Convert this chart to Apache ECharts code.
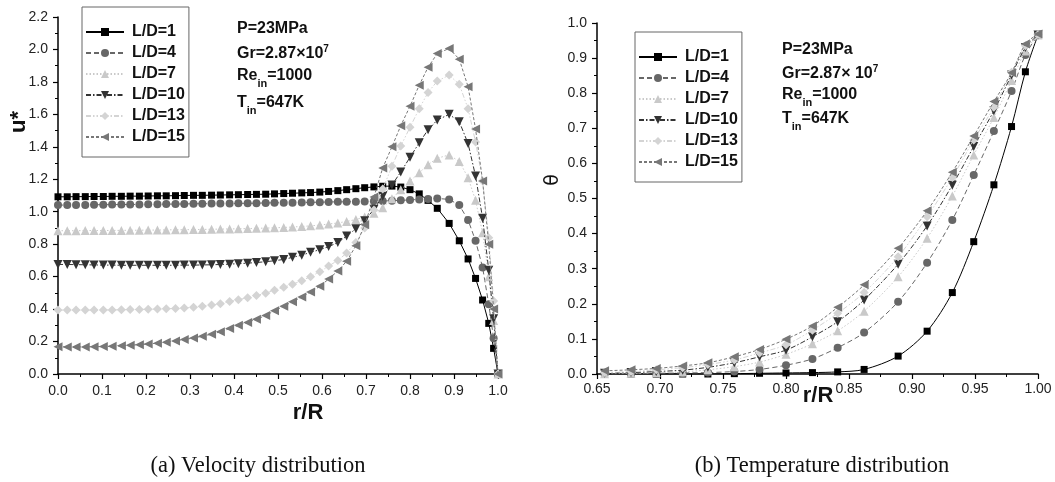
<!DOCTYPE html>
<html><head><meta charset="utf-8">
<script src="https://cdn.jsdelivr.net/npm/echarts@6/dist/echarts.min.js"></script>
<style>html,body{margin:0;padding:0;background:#fff}#c{width:1055px;height:482px}</style>
</head><body><div id="c"></div>
<script>
// ---------- data ----------
const seriesNames = ['L/D=1','L/D=4','L/D=7','L/D=10','L/D=13','L/D=15'];

const rGrid = [0,0.021,0.041,0.062,0.082,0.103,0.123,0.144,0.164,0.185,0.205,0.226,0.246,0.267,0.287,0.308,0.328,0.349,0.369,0.390,0.410,0.431,0.451,0.472,0.492,0.513,0.533,0.554,0.574,0.595,0.615,0.636,0.656,0.677,0.697,0.718,0.738,0.759,0.779,0.800,0.821,0.841,0.862,0.889,0.912,0.932,0.949,0.965,0.979,0.990,1.000];

const uLD1 = [1.092,1.092,1.093,1.093,1.094,1.094,1.095,1.095,1.096,1.096,1.097,
 1.098,1.098,1.099,1.100,1.101,1.101,1.102,1.103,1.104,1.105,
 1.106,1.107,1.108,1.110,1.112,1.114,1.116,1.118,1.121,1.125,
 1.130,1.136,1.142,1.148,1.153,1.157,1.158,1.152,1.136,1.110,1.070,1.021,
 0.928,0.821,0.709,0.589,0.456,0.312,0.158,0.000];
const uLD4 = [1.041,1.041,1.042,1.042,1.043,1.043,1.044,1.044,1.045,1.045,1.046,
 1.046,1.047,1.047,1.048,1.049,1.049,1.050,1.050,1.051,1.052,
 1.052,1.053,1.054,1.055,1.055,1.056,1.057,1.058,1.059,1.060,
 1.061,1.061,1.062,1.063,1.064,1.066,1.068,1.070,1.073,1.076,1.079,1.082,
 1.076,1.041,0.949,0.821,0.657,0.430,0.220,0.000];
const uLD7 = [0.883,0.883,0.883,0.884,0.884,0.884,0.885,0.885,0.886,0.886,0.887,
 0.887,0.888,0.889,0.889,0.890,0.891,0.892,0.893,0.894,0.895,
 0.896,0.898,0.899,0.901,0.903,0.906,0.909,0.913,0.918,0.924,
 0.931,0.940,0.952,0.968,0.990,1.025,1.080,1.135,1.190,1.240,1.290,1.330,
 1.350,1.310,1.210,1.070,0.870,0.600,0.330,0.000];
const uLD10 = [0.675,0.675,0.674,0.673,0.672,0.671,0.671,0.670,0.670,0.670,0.670,
 0.670,0.670,0.670,0.671,0.671,0.672,0.673,0.675,0.677,0.680,
 0.683,0.687,0.692,0.698,0.706,0.719,0.732,0.750,0.766,0.785,
 0.810,0.850,0.895,0.945,1.015,1.095,1.165,1.245,1.335,1.425,1.505,1.565,
 1.600,1.555,1.420,1.220,0.960,0.640,0.340,0.000];
const uLD13 = [0.394,0.394,0.394,0.394,0.394,0.395,0.395,0.396,0.397,0.398,0.399,
 0.400,0.402,0.404,0.406,0.412,0.418,0.425,0.433,0.447,0.458,
 0.470,0.483,0.498,0.516,0.535,0.553,0.575,0.600,0.630,0.665,
 0.700,0.745,0.810,0.900,1.010,1.140,1.280,1.405,1.520,1.635,1.735,1.805,
 1.842,1.785,1.635,1.430,1.190,0.840,0.450,0.000];
const uLD15 = [0.168,0.167,0.167,0.167,0.168,0.169,0.171,0.174,0.177,0.181,0.185,
 0.190,0.196,0.203,0.212,0.222,0.233,0.245,0.260,0.280,0.300,
 0.318,0.338,0.360,0.390,0.418,0.445,0.475,0.505,0.540,0.585,
 0.635,0.695,0.790,0.920,1.090,1.270,1.400,1.530,1.650,1.780,1.890,1.975,
 2.006,1.940,1.770,1.510,1.190,0.800,0.400,0.000];

const rTheta = [0.656,0.677,0.697,0.718,0.738,0.759,0.779,0.800,0.821,0.841,0.862,0.889,0.912,0.932,0.949,0.965,0.979,0.990,1.000];
const tLD1  = [0.000,0.000,0.000,0.000,0.000,0.001,0.002,0.003,0.004,0.006,0.013,0.051,0.122,0.232,0.377,0.539,0.705,0.861,0.966];
const tLD4  = [0.000,0.001,0.002,0.003,0.004,0.007,0.013,0.025,0.043,0.075,0.118,0.206,0.317,0.439,0.567,0.692,0.806,0.909,0.966];
const tLD7  = [0.001,0.002,0.004,0.006,0.012,0.021,0.034,0.056,0.086,0.123,0.179,0.277,0.387,0.507,0.624,0.731,0.836,0.920,0.966];
const tLD10 = [0.002,0.004,0.007,0.011,0.019,0.032,0.049,0.068,0.106,0.149,0.211,0.313,0.422,0.538,0.648,0.750,0.852,0.930,0.966];
const tLD13 = [0.004,0.007,0.012,0.018,0.027,0.040,0.060,0.083,0.125,0.173,0.232,0.334,0.448,0.560,0.667,0.760,0.860,0.935,0.967];
const tLD15 = [0.009,0.012,0.016,0.023,0.032,0.049,0.070,0.099,0.137,0.190,0.254,0.358,0.465,0.575,0.678,0.776,0.858,0.940,0.969];

const uSets = [uLD1,uLD4,uLD7,uLD10,uLD13,uLD15];
const tSets = [tLD1,tLD4,tLD7,tLD10,tLD13,tLD15];

const notesLeft  = [[['P=23MPa','']],[['Gr=2.87×10',''],['7','sup']],[['Re',''],['in','sub'],['=1000','']],[['T',''],['in','sub'],['=647K','']]];
const notesRight = [[['P=23MPa','']],[['Gr=2.87× 10',''],['7','sup']],[['Re',''],['in','sub'],['=1000','']],[['T',''],['in','sub'],['=647K','']]];
const captions = ['(a) Velocity distribution','(b) Temperature distribution'];

// ---------- styles ----------
const SANS = '"Liberation Sans", Arial, sans-serif';
const sty = [
 {color:'#000000', symbol:'rect',     size:7, rot:0,   dash:'solid'},
 {color:'#676767', symbol:'circle',   size:8, rot:0,   dash:[5,3]},
 {color:'#c9c9c9', symbol:'triangle', size:9, rot:0,   dash:[1.5,2]},
 {color:'#333333', symbol:'triangle', size:9, rot:180, dash:[5,2,1.5,2]},
 {color:'#d4d4d4', symbol:'diamond',  size:9, rot:0,   dash:[5,2,1.5,2,1.5,2]},
 {color:'#777777', symbol:'triangle', size:9, rot:90,  dash:[3,2]}
];

function mkSeries(i, xs, ys, axisIdx, smooth){
  const s = sty[i];
  return {
    type:'line', name:seriesNames[i], xAxisIndex:axisIdx, yAxisIndex:axisIdx,
    data: xs.map((x,j)=>[x, ys[j]]),
    symbol:s.symbol, symbolSize:s.size, symbolRotate:s.rot, showSymbol:true,
    smooth: smooth, clip:true,
    itemStyle:{color:s.color, borderWidth:0},
    lineStyle:{color:s.color, width:1, type:s.dash},
    emphasis:{disabled:true}, animation:false, z:2+i
  };
}

function xAx(idx, min, max, interval, dec, margin){
  return {type:'value', gridIndex:idx, min, max, interval,
    axisLine:{show:true, onZero:false, lineStyle:{color:'#000', width:1.5}},
    axisTick:{show:true, length:5, lineStyle:{color:'#000', width:1.2}},
    minorTick:{show:true, splitNumber:2, length:3, lineStyle:{color:'#000', width:1}},
    splitLine:{show:false},
    axisLabel:{fontFamily:SANS, fontSize:14, color:'#222', margin, formatter:v=>v.toFixed(dec), showMaxLabel:true, showMinLabel:true}
  };
}
function yAx(idx, min, max, interval){
  return {type:'value', gridIndex:idx, min, max, interval,
    axisLine:{show:true, onZero:false, lineStyle:{color:'#000', width:1.5}},
    axisTick:{show:true, length:5, lineStyle:{color:'#000', width:1.2}},
    minorTick:{show:true, splitNumber:2, length:3, lineStyle:{color:'#000', width:1}},
    splitLine:{show:false},
    axisLabel:{fontFamily:SANS, fontSize:14, color:'#222', margin:10, formatter:v=>v.toFixed(1)}
  };
}

function mkLegend(left, top){
  return {data:seriesNames, orient:'vertical', left, top,
    backgroundColor:'#fff', borderColor:'#666', borderWidth:1,
    padding:[17,4,12,3], itemGap:5, itemWidth:38, itemHeight:10,
    selectedMode:false,
    textStyle:{fontFamily:SANS, fontSize:16, fontWeight:'bold', color:'#111', padding:[0,0,0,3]}
  };
}

// text measure for sub/superscripts
const mctx = document.createElement('canvas').getContext('2d');
function tw(str, size){ mctx.font = 'bold '+size+'px "Liberation Sans"'; return mctx.measureText(str).width; }
function noteEls(lines, x0, ys){
  const els = [];
  lines.forEach((parts, li)=>{
    let x = x0; const y = ys[li];
    parts.forEach(([t,k])=>{
      const fs = k==='' ? 16 : (k==='sub' ? 11 : 10);
      const dy = k==='sub' ? 8 : (k==='sup' ? -5 : 0);
      els.push({type:'text', x:x, y:y+dy, silent:true,
        style:{text:t, fontFamily:SANS, fontSize:fs, fontWeight:'bold', fill:'#111', align:'left', verticalAlign:'middle'}});
      x += tw(t, fs);
    });
  });
  return els;
}

const graphics = [].concat(
  noteEls(notesLeft, 237, [29,54,76,103]),
  noteEls(notesRight, 782, [50,74,95,119]),
  [
    {type:'text', x:308, y:413, silent:true, style:{text:'r/R', fontFamily:SANS, fontSize:22, fontWeight:'bold', fill:'#111', align:'center', verticalAlign:'middle'}},
    {type:'text', x:818, y:396, silent:true, style:{text:'r/R', fontFamily:SANS, fontSize:22, fontWeight:'bold', fill:'#111', align:'center', verticalAlign:'middle'}},
    {type:'text', x:19, y:122, rotation:Math.PI/2, silent:true, style:{text:'u*', fontFamily:SANS, fontSize:22, fontWeight:'bold', fill:'#111', align:'center', verticalAlign:'middle'}},
    {type:'text', x:553, y:180, rotation:Math.PI/2, silent:true, style:{text:'θ', fontFamily:'"DejaVu Sans", sans-serif', fontSize:19, fill:'#111', align:'center', verticalAlign:'middle'}},
    {type:'text', x:258, y:466, silent:true, style:{text:captions[0], fontFamily:'"Liberation Serif", "Times New Roman", serif', fontSize:22.5, fill:'#111', align:'center', verticalAlign:'middle'}},
    {type:'text', x:822, y:466, silent:true, style:{text:captions[1], fontFamily:'"Liberation Serif", "Times New Roman", serif', fontSize:22.5, fill:'#111', align:'center', verticalAlign:'middle'}}
  ]
);

const series = [];
for (let i=0;i<6;i++) series.push(mkSeries(i, rGrid, uSets[i], 0, false));
for (let i=0;i<6;i++) series.push(mkSeries(i, rTheta, tSets[i], 1, 0.3));

const chart = echarts.init(document.getElementById('c'), null, {renderer:'canvas'});
chart.setOption({
  animation:false,
  backgroundColor:'#ffffff',
  grid:[
    {left:58, right:557, top:17, bottom:108, containLabel:false},
    {left:597, right:17, top:23, bottom:108, containLabel:false}
  ],
  xAxis:[ xAx(0, 0, 1, 0.1, 1, 10), xAx(1, 0.65, 1.0, 0.05, 2, 8) ],
  yAxis:[ yAx(0, 0, 2.2, 0.2), yAx(1, 0, 1.0, 0.1) ],
  legend:[ mkLegend(82, 7), mkLegend(635, 32) ],
  series,
  graphic: graphics
});
</script>
</body></html>
